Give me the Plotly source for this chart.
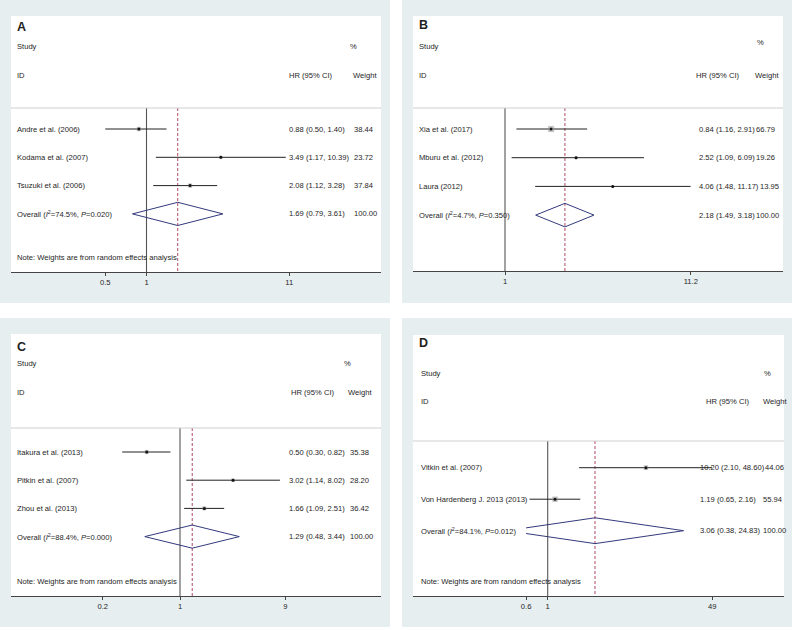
import math
import plotly.graph_objects as go

W, H = 793, 630

# ---------------- data ----------------
# A
a_studies = ["Andre et al. (2006)", "Kodama et al. (2007)", "Tsuzuki et al. (2006)"]
a_hr = [0.88, 3.49, 2.08]
a_lo = [0.50, 1.17, 1.12]
a_hi = [1.40, 10.39, 3.28]
a_wt = [38.44, 23.72, 37.84]
a_overall = [1.69, 0.79, 3.61]
a_i2, a_p = "74.5", "0.020"
a_ticks = [0.5, 1, 11]
a_ticktext = ["0.5", "1", "11"]

# B (first estimate is printed as 0.84 but drawn near 1.82)
b_studies = ["Xia et al. (2017)", "Mburu et al. (2012)", "Laura (2012)"]
b_hr = [1.82, 2.52, 4.06]
b_hr_printed = [0.84, 2.52, 4.06]
b_lo = [1.16, 1.09, 1.48]
b_hi = [2.91, 6.09, 11.17]
b_wt = [66.79, 19.26, 13.95]
b_overall = [2.18, 1.49, 3.18]
b_i2, b_p = "4.7", "0.350"
b_ticks = [1, 11.2]
b_ticktext = ["1", "11.2"]

# C
c_studies = ["Itakura et al. (2013)", "Pitkin et al. (2007)", "Zhou et al. (2013)"]
c_hr = [0.50, 3.02, 1.66]
c_lo = [0.30, 1.14, 1.09]
c_hi = [0.82, 8.02, 2.51]
c_wt = [35.38, 28.20, 36.42]
c_overall = [1.29, 0.48, 3.44]
c_i2, c_p = "88.4", "0.000"
c_ticks = [0.2, 1, 9]
c_ticktext = ["0.2", "1", "9"]

# D
d_studies = ["Vitkin et al. (2007)", "Von Hardenberg J. 2013 (2013)"]
d_hr = [10.20, 1.19]
d_lo = [2.10, 0.65]
d_hi = [48.60, 2.16]
d_wt = [44.06, 55.94]
d_overall = [3.06, 0.38, 24.83]
d_i2, d_p = "84.1", "0.012"
d_ticks = [0.6, 1, 49]
d_ticktext = ["0.6", "1", "49"]

NOTE = "Note: Weights are from random effects analysis"

# ---------------- styling / layout (pixels) ----------------
FONT = "Liberation Sans, Arial, Helvetica, sans-serif"
TXT = "#1e1e1e"
PANEL_BG = "#e7eef0"
FS = 7.6

panels = [
    dict(letter="A", studies=a_studies, hr=a_hr, shown=a_hr, lo=a_lo, hi=a_hi, wt=a_wt,
         overall=a_overall, i2=a_i2, p=a_p, ticks=a_ticks, ticktext=a_ticktext, note=True,
         box=(0, 0, 390, 303), white=(11, 16, 381, 272), one=146.5, ppl=59.5,
         row0=129, pitch=28.3, lab_x=16, hr_x=288, wt_x=353, let=(16, 27),
         study_y=47, id_y=75, pct=(349, 47), hrh_x=288, wth_x=352, sep_y=108, note_y=257),
    dict(letter="B", studies=b_studies, hr=b_hr, shown=b_hr_printed, lo=b_lo, hi=b_hi, wt=b_wt,
         overall=b_overall, i2=b_i2, p=b_p, ticks=b_ticks, ticktext=b_ticktext, note=False,
         box=(402, 0, 792, 303), white=(413, 16, 783, 271), one=505, ppl=76.9,
         row0=129, pitch=28.7, lab_x=417.5, hr_x=698, wt_x=755, let=(417.5, 25),
         study_y=46.7, id_y=75, pct=(756, 43), hrh_x=695, wth_x=754, sep_y=108, note_y=None),
    dict(letter="C", studies=c_studies, hr=c_hr, shown=c_hr, lo=c_lo, hi=c_hi, wt=c_wt,
         overall=c_overall, i2=c_i2, p=c_p, ticks=c_ticks, ticktext=c_ticktext, note=True,
         box=(0, 318, 390, 627), white=(11, 334, 381, 596), one=180, ppl=48,
         row0=452, pitch=28.2, lab_x=16, hr_x=288, wt_x=349, let=(16, 346.7),
         study_y=364, id_y=392, pct=(343, 364), hrh_x=290, wth_x=346.7, sep_y=428, note_y=581),
    dict(letter="D", studies=d_studies, hr=d_hr, shown=d_hr, lo=d_lo, hi=d_hi, wt=d_wt,
         overall=d_overall, i2=d_i2, p=d_p, ticks=d_ticks, ticktext=d_ticktext, note=True,
         box=(402, 318, 792, 627), white=(413, 335, 784, 596), one=547.7, ppl=42.3,
         row0=467.7, pitch=31.5, lab_x=420, hr_x=699, wt_x=762, let=(418, 343.3),
         study_y=373.3, id_y=401, pct=(763, 373), hrh_x=705, wth_x=761.7, sep_y=441, note_y=581),
]

# rough Arial/Liberation advance widths (em) for the numeric columns
CHAR_W = {".": 0.278, ",": 0.278, " ": 0.278, "(": 0.333, ")": 0.333}


def text_w(s, size=FS):
    return sum(CHAR_W.get(ch, 0.556) for ch in s) * size


def px_x(x):
    return x / W


def px_y(y):
    return 1 - y / H


def ann(x, y, text, yref="paper", size=FS, anchor="left"):
    return dict(x=x, y=y, xref="paper", yref=yref, text=text, showarrow=False,
                xanchor=anchor, yanchor="middle", borderpad=0,
                font=dict(family=FONT, size=size, color=TXT))


fig = go.Figure()
shapes, annotations, axes = [], [], {}

for k, p in enumerate(panels, start=1):
    sfx = "" if k == 1 else str(k)
    xa, ya = "x" + sfx, "y" + sfx
    gx0, gy0, gx1, gy1 = p["box"]
    wx0, wy0, wx1, wy1 = p["white"]

    # backgrounds
    shapes.append(dict(type="rect", xref="paper", yref="paper", x0=px_x(gx0), x1=px_x(gx1),
                       y0=px_y(gy1), y1=px_y(gy0), fillcolor=PANEL_BG, line_width=0, layer="below"))
    shapes.append(dict(type="rect", xref="paper", yref="paper", x0=px_x(wx0), x1=px_x(wx1),
                       y0=px_y(wy1), y1=px_y(wy0), fillcolor="white", line_width=0, layer="below"))
    # separator under the header
    shapes.append(dict(type="line", xref="paper", yref="paper", x0=px_x(wx0), x1=px_x(wx1),
                       y0=px_y(p["sep_y"]), y1=px_y(p["sep_y"]),
                       line=dict(color="#cfcfcf", width=1)))

    ln10 = math.log(10)
    rng = [(wx0 - p["one"]) / p["ppl"] / ln10, (wx1 - p["one"]) / p["ppl"] / ln10]
    y_top = 1 - (p["row0"] - wy0) / p["pitch"]
    y_bot = 1 + (wy1 - p["row0"]) / p["pitch"]
    y_sep = 1 + (p["sep_y"] - p["row0"]) / p["pitch"]
    xmin, xmax = min(p["ticks"]), max(p["ticks"])

    axes["xaxis" + sfx] = dict(
        type="log", range=rng, domain=[px_x(wx0), px_x(wx1)], anchor=ya,
        tickvals=p["ticks"], ticktext=p["ticktext"], ticks="outside", ticklen=3,
        tickwidth=1, tickcolor="#444", showline=True, linecolor="#444", linewidth=1,
        showgrid=False, zeroline=False, fixedrange=True,
        tickfont=dict(family=FONT, size=FS, color=TXT))
    axes["yaxis" + sfx] = dict(range=[y_bot, y_top], domain=[px_y(wy1), px_y(wy0)],
                               anchor=xa, visible=False, fixedrange=True)

    n = len(p["studies"])
    est, olo, ohi = p["overall"]

    # null line and overall estimate line
    fig.add_trace(go.Scatter(x=[1, 1], y=[y_sep, y_bot], mode="lines", xaxis=xa, yaxis=ya,
                             line=dict(color="#555", width=1.1), hoverinfo="skip", showlegend=False))
    fig.add_trace(go.Scatter(x=[est, est], y=[y_sep, y_bot], mode="lines", xaxis=xa, yaxis=ya,
                             line=dict(color="#a8324f", width=0.9, dash="3px,2px"),
                             hoverinfo="skip", showlegend=False))

    rows = list(range(1, n + 1))
    for i, r in enumerate(rows):
        lo, hi = max(p["lo"][i], xmin), min(p["hi"][i], xmax)
        fig.add_trace(go.Scatter(x=[lo, hi], y=[r, r], mode="lines", xaxis=xa, yaxis=ya,
                                 line=dict(color="#222", width=1), hoverinfo="skip",
                                 showlegend=False))
    # weight boxes and point estimates
    fig.add_trace(go.Scatter(x=p["hr"], y=rows, mode="markers", xaxis=xa, yaxis=ya,
                             marker=dict(symbol="square", color="#a9a9a9",
                                         size=[1 + 0.065 * w for w in p["wt"]],
                                         line=dict(color="#8a8a8a", width=0.5)),
                             hoverinfo="skip", showlegend=False))
    fig.add_trace(go.Scatter(x=p["hr"], y=rows, mode="markers", xaxis=xa, yaxis=ya,
                             marker=dict(symbol="circle", color="#111", size=3),
                             hoverinfo="skip", showlegend=False))

    # overall diamond, clipped to the labelled axis range
    ro = n + 1
    h = 0.41
    lle, lhi = math.log(olo), math.log(est)
    if olo < xmin:
        f = (math.log(xmin) - lle) / (lhi - lle)
        dx = [xmin, est, ohi, est, xmin]
        dy = [ro - h * f, ro - h, ro, ro + h, ro + h * f]
    else:
        dx = [olo, est, ohi, est, olo]
        dy = [ro, ro - h, ro, ro + h, ro]
    fig.add_trace(go.Scatter(x=dx, y=dy, mode="lines", xaxis=xa, yaxis=ya,
                             line=dict(color="#333a7c", width=1), hoverinfo="skip",
                             showlegend=False))

    # header texts
    lx, ly = p["let"]
    annotations.append(ann(px_x(lx), px_y(ly), "<b>%s</b>" % p["letter"], size=12.5))
    annotations.append(ann(px_x(p["lab_x"]), px_y(p["study_y"]), "Study"))
    annotations.append(ann(px_x(p["lab_x"]), px_y(p["id_y"]), "ID"))
    annotations.append(ann(px_x(p["pct"][0]), px_y(p["pct"][1]), "%"))
    annotations.append(ann(px_x(p["hrh_x"]), px_y(p["id_y"]), "HR (95% CI)"))
    annotations.append(ann(px_x(p["wth_x"]), px_y(p["id_y"]), "Weight"))

    # study rows
    for i, r in enumerate(rows):
        hr_txt = "%.2f (%.2f, %.2f)" % (p["shown"][i], p["lo"][i], p["hi"][i])
        annotations.append(ann(px_x(p["lab_x"]), r, p["studies"][i], yref=ya))
        annotations.append(ann(px_x(p["hr_x"]), r, hr_txt, yref=ya))
        wx = max(p["wt_x"], p["hr_x"] + text_w(hr_txt) + 1)
        annotations.append(ann(px_x(wx), r, "%.2f" % p["wt"][i], yref=ya))

    ov_label = "Overall (<i>I</i><sup>2</sup>=%s%%, <i>P</i>=%s)" % (p["i2"], p["p"])
    ov_txt = "%.2f (%.2f, %.2f)" % (est, olo, ohi)
    annotations.append(ann(px_x(p["lab_x"]), ro, ov_label, yref=ya))
    annotations.append(ann(px_x(p["hr_x"]), ro, ov_txt, yref=ya))
    wx = max(p["wt_x"], p["hr_x"] + text_w(ov_txt) + 1)
    annotations.append(ann(px_x(wx), ro, "100.00", yref=ya))

    if p["note"]:
        annotations.append(ann(px_x(p["lab_x"]), px_y(p["note_y"]), NOTE))

fig.update_layout(
    width=W, height=H, margin=dict(l=0, r=0, t=0, b=0),
    paper_bgcolor="white", plot_bgcolor="rgba(0,0,0,0)",
    font=dict(family=FONT, size=FS, color=TXT),
    shapes=shapes, annotations=annotations, showlegend=False,
    **axes)

fig.write_html("out.html", config=dict(displayModeBar=False),
               post_script="document.body.style.margin='0';")
